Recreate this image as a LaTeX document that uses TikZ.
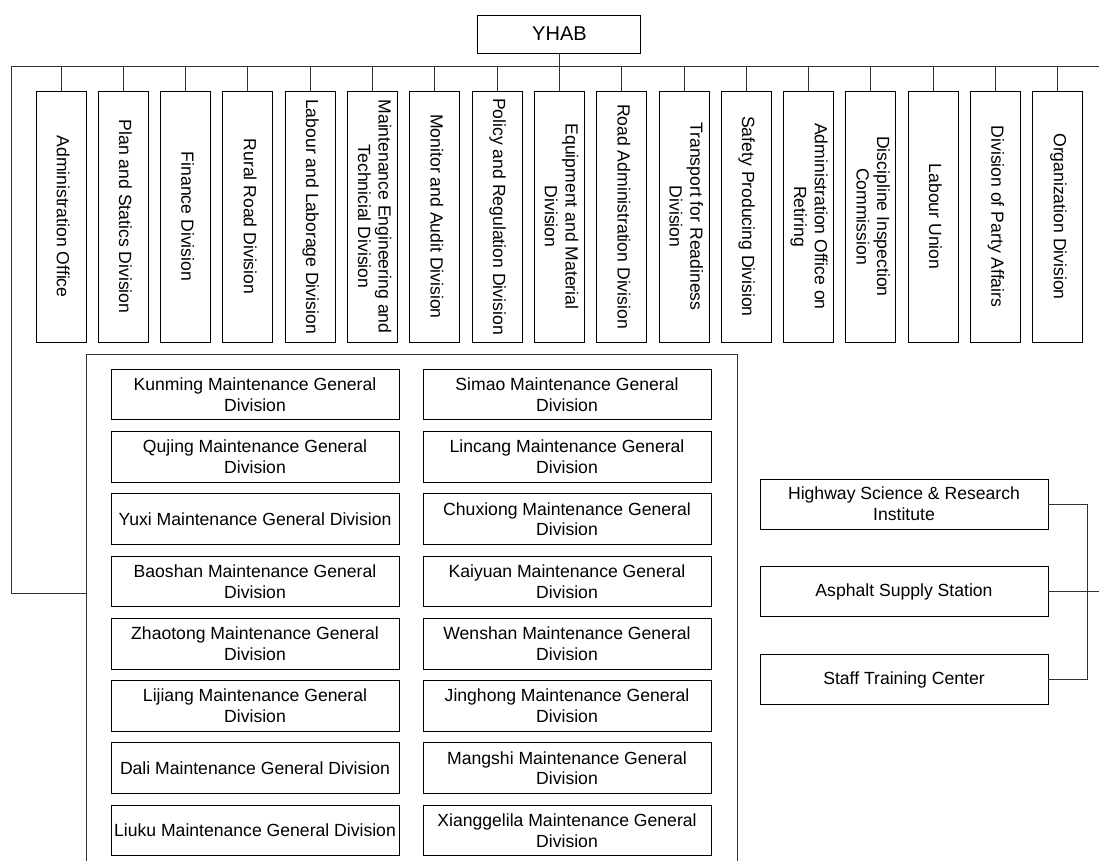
\documentclass[tikz,border=0pt]{standalone}
\usepackage{fontspec}
\setmainfont{Liberation Sans}
\usepackage{graphicx}
\usepackage{tikz}
\usetikzlibrary{positioning}
\newcommand{\vtext}[1]{\rotatebox{-90}{\begin{tabular}{@{}c@{}}#1\end{tabular}}}
\tikzset{
  box/.style={draw=black,line width=0.75pt,fill=white,align=center,inner sep=1pt,
              outer sep=0pt,font=\fontsize{13.2pt}{15.5pt}\selectfont},
  vbox/.style={box,minimum width=37.5pt,minimum height=188.25pt},
  mbox/.style={box,minimum width=216pt,minimum height=38pt},
  sidebox/.style={box,minimum width=216pt,minimum height=37.5pt},
  tie/.style={draw=black!80,line width=0.75pt}
}

\begin{document}
\begin{tikzpicture}[x=0.75pt,y=-0.75pt,node distance=8.725pt and 9.23pt]
  \useasboundingbox (0,0) rectangle (1099,861);

  \node[vbox] (adm) at (61,216.5) {\vtext{Administration Office}};
  \node[vbox,right=of adm] (plan) {\vtext{Plan and Statics Division}};
  \node[vbox,right=of plan] (fin) {\vtext{Finance Division}};
  \node[vbox,right=of fin] (rural) {\vtext{Rural Road Division}};
  \node[vbox,right=of rural] (labour) {\vtext{Labour and Laborage Division}};
  \node[vbox,right=of labour] (mainteng) {\vtext{Maintenance Engineering and\\Technicial Division}};
  \node[vbox,right=of mainteng] (monitor) {\vtext{Monitor and Audit Division}};
  \node[vbox,right=of monitor] (policy) {\vtext{Policy and Regulation Division}};
  \node[vbox,right=of policy] (equip) {\vtext{Equipment and Material\\Division}};
  \node[vbox,right=of equip] (roadadm) {\vtext{Road Administration Division}};
  \node[vbox,right=of roadadm] (transport) {\vtext{Transport for Readiness\\Division}};
  \node[vbox,right=of transport] (safety) {\vtext{Safety Producing Division}};
  \node[vbox,right=of safety] (retire) {\vtext{Administration Office on\\Retiring}};
  \node[vbox,right=of retire] (discipline) {\vtext{Discipline Inspection\\Commission}};
  \node[vbox,right=of discipline] (union) {\vtext{Labour Union}};
  \node[vbox,right=of union] (party) {\vtext{Division of Party Affairs}};
  \node[vbox,right=of party] (org) {\vtext{Organization Division}};

  \node[box,above=28.5pt of equip,minimum width=122.25pt,minimum height=28.5pt,
        font=\fontsize{15pt}{18pt}\selectfont] (yhab) {YHAB};

  % maintenance general divisions
  \node[mbox] (kunming) at (255,394.5) {Kunming Maintenance General\\Division};
  \node[mbox,below=of kunming] (qujing) {Qujing Maintenance General\\Division};
  \node[mbox,below=of qujing] (yuxi) {Yuxi Maintenance General Division};
  \node[mbox,below=of yuxi] (baoshan) {Baoshan Maintenance General\\Division};
  \node[mbox,below=of baoshan] (zhaotong) {Zhaotong Maintenance General\\Division};
  \node[mbox,below=of zhaotong] (lijiang) {Lijiang Maintenance General\\Division};
  \node[mbox,below=of lijiang] (dali) {Dali Maintenance General Division};
  \node[mbox,below=of dali] (liuku) {Liuku Maintenance General Division};
  \node[mbox,right=18pt of kunming] (simao) {Simao Maintenance General\\Division};
  \node[mbox,right=18pt of qujing] (lincang) {Lincang Maintenance General\\Division};
  \node[mbox,right=18pt of yuxi] (chuxiong) {Chuxiong Maintenance General\\Division};
  \node[mbox,right=18pt of baoshan] (kaiyuan) {Kaiyuan Maintenance General\\Division};
  \node[mbox,right=18pt of zhaotong] (wenshan) {Wenshan Maintenance General\\Division};
  \node[mbox,right=18pt of lijiang] (jinghong) {Jinghong Maintenance General\\Division};
  \node[mbox,right=18pt of dali] (mangshi) {Mangshi Maintenance General\\Division};
  \node[mbox,right=18pt of liuku] (xiang) {Xianggelila Maintenance General\\Division};

  \node[sidebox] (hsri) at (904,504) {Highway Science \& Research\\Institute};
  \node[sidebox,below=28.3pt of hsri] (asph) {Asphalt Supply Station};
  \node[sidebox,below=28.3pt of asph] (stc) {Staff Training Center};

  \coordinate (busL) at (11,66);
  \coordinate (busR) at (1099,66);
  \coordinate (grpTL) at (86,354);
  \coordinate (grpTR) at (737,354);
  \coordinate (grpBL) at (86,861);
  \coordinate (grpBR) at (737,861);
  \coordinate (grpJoin) at (86,593);

  \draw[tie] (busR) -- (busL) |- (grpJoin);
  \draw[tie] (grpBL) -- (grpTL) -- (grpTR) -- (grpBR);
  \draw[tie] (yhab.south) -- (equip.north);
  \draw[tie] (adm.north) -- (adm.north |- busL);
  \draw[tie] (plan.north) -- (plan.north |- busL);
  \draw[tie] (fin.north) -- (fin.north |- busL);
  \draw[tie] (rural.north) -- (rural.north |- busL);
  \draw[tie] (labour.north) -- (labour.north |- busL);
  \draw[tie] (mainteng.north) -- (mainteng.north |- busL);
  \draw[tie] (monitor.north) -- (monitor.north |- busL);
  \draw[tie] (policy.north) -- (policy.north |- busL);
  \draw[tie] (roadadm.north) -- (roadadm.north |- busL);
  \draw[tie] (transport.north) -- (transport.north |- busL);
  \draw[tie] (safety.north) -- (safety.north |- busL);
  \draw[tie] (retire.north) -- (retire.north |- busL);
  \draw[tie] (discipline.north) -- (discipline.north |- busL);
  \draw[tie] (union.north) -- (union.north |- busL);
  \draw[tie] (party.north) -- (party.north |- busL);
  \draw[tie] (org.north) -- (org.north |- busL);
  \draw[tie] (hsri.east) -- ++(39,0) |- (stc.east);
  \draw[tie] (asph.east) -- (asph.east -| busR);
\end{tikzpicture}
\end{document}
